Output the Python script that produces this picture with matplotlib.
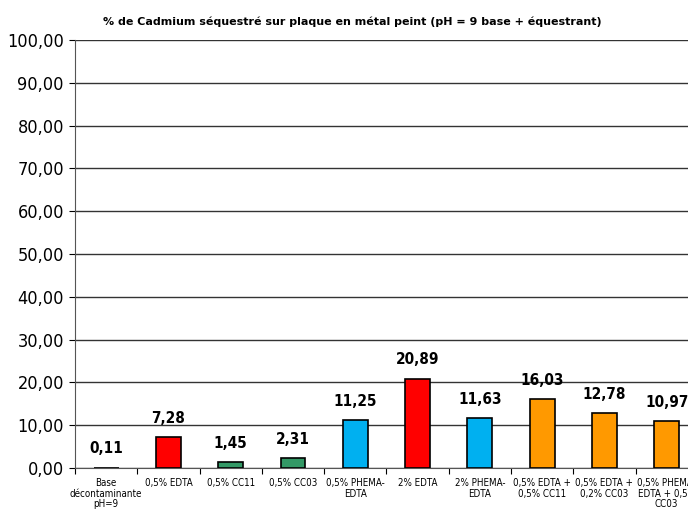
import matplotlib
matplotlib.use("Agg")
import matplotlib.pyplot as plt
from matplotlib.ticker import FuncFormatter, MultipleLocator

TITLE = "% de Cadmium séquestré sur plaque en métal peint (pH = 9 base + équestrant)"
CATEGORIES = [
    "Base\ndécontaminante\npH=9",
    "0,5% EDTA",
    "0,5% CC11",
    "0,5% CC03",
    "0,5% PHEMA-\nEDTA",
    "2% EDTA",
    "2% PHEMA-\nEDTA",
    "0,5% EDTA +\n0,5% CC11",
    "0,5% EDTA +\n0,2% CC03",
    "0,5% PHEMA-\nEDTA + 0,5%\nCC03",
]
VALUES = [0.11, 7.28, 1.45, 2.31, 11.25, 20.89, 11.63, 16.03, 12.78, 10.97]
BAR_COLORS = [
    "#000000", "#FF0000", "#339966", "#339966", "#00B0F0",
    "#FF0000", "#00B0F0", "#FF9900", "#FF9900", "#FF9900",
]


def fr_number(value, pos=None):
    return f"{value:.2f}".replace(".", ",")


def main():
    fig = plt.figure(figsize=(6.88, 5.12), dpi=100)
    # the original chart is cropped on the right, so the axes run past the figure edge
    ax = fig.add_axes([75 / 688, 44 / 512, 654 / 688, 428 / 512])

    positions = range(len(CATEGORIES))
    ax.bar(positions, VALUES, width=0.4, color=BAR_COLORS,
           edgecolor="black", linewidth=1.2, zorder=3)

    for x, value in zip(positions, VALUES):
        ax.annotate(fr_number(value), (x, value), xytext=(0, 8),
                    textcoords="offset points", ha="center", va="bottom",
                    fontsize=11, fontweight="bold", fontstretch="condensed")

    ax.set_xlim(-0.5, 10.0)
    ax.set_ylim(0, 100)
    ax.yaxis.set_major_locator(MultipleLocator(10))
    ax.yaxis.set_major_formatter(FuncFormatter(fr_number))
    ax.grid(True, axis="y", color="#333333", linewidth=1, zorder=0)

    ax.set_xticks([p + 0.5 for p in range(-1, len(CATEGORIES))], minor=False)
    ax.set_xticklabels([])
    ax.set_xticks(list(positions), minor=True)
    ax.set_xticklabels(CATEGORIES, minor=True, fontsize=7,
                       fontstretch="condensed", linespacing=1.1)
    ax.tick_params(axis="x", which="minor", length=0, pad=7)
    ax.tick_params(axis="x", which="major", length=4, direction="out")
    ax.tick_params(axis="y", length=4, direction="out", labelsize=13, pad=4)
    for label in ax.get_yticklabels():
        label.set_fontstretch("condensed")

    for side in ["top", "right"]:
        ax.spines[side].set_visible(False)
    ax.spines["left"].set_color("#555555")
    ax.spines["bottom"].set_color("#555555")

    fig.text(352 / 688, 1 - 22 / 512, TITLE, ha="center", va="center",
             fontsize=8, fontweight="bold")

    fig.savefig("out.png", dpi=100)


if __name__ == "__main__":
    main()
